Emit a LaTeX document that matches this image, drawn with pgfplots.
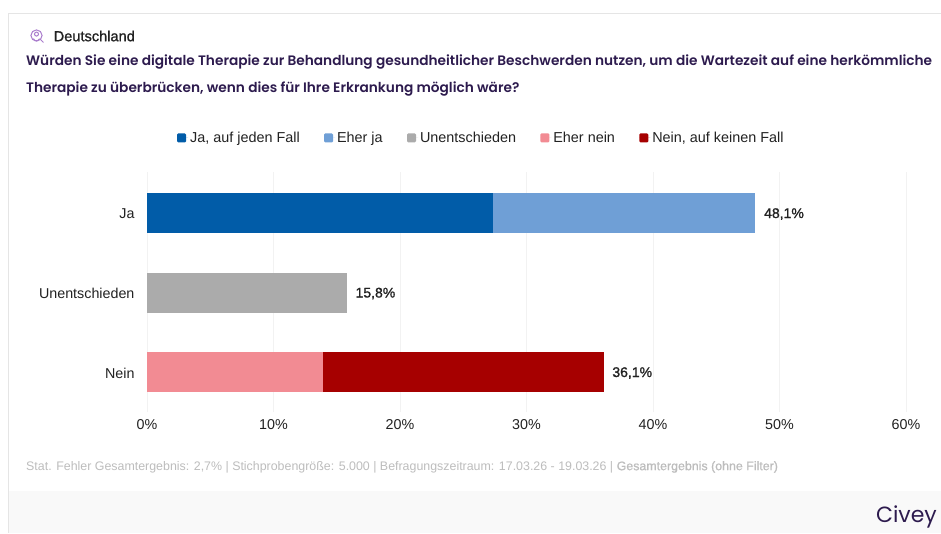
\documentclass[border=0pt]{standalone}
\usepackage{fontspec}
\setmainfont{Liberation Sans}
\newfontfamily\pop{Poppins}[BoldFont={Poppins SemiBold}]
\newfontfamily\poplight{Poppins}
\usepackage{pgfplots}
\pgfplotsset{compat=1.18}
\definecolor{c1}{HTML}{015CA8}
\definecolor{c2}{HTML}{6F9FD6}
\definecolor{c3}{HTML}{ABABAB}
\definecolor{c4}{HTML}{F28B93}
\definecolor{c5}{HTML}{A60000}
\definecolor{ttl}{HTML}{2D1B4E}
\definecolor{foot}{HTML}{BDBDBD}
\definecolor{txt}{HTML}{222222}
\begin{document}
\begin{tikzpicture}[x=1pt,y=1pt]
\useasboundingbox (0,0) rectangle (941,533);
\fill[white] (0,0) rectangle (941,533);
\fill[black!2.5] (9,0) rectangle (941,42);
\draw[black!10,line width=0.8pt] (8.5,0) -- (8.5,519.5) -- (941,519.5);
% header
\begin{scope}[shift={(36.5,497.5)},draw={rgb,255:red,170;green,125;blue,205},line width=1pt]
\draw (0,0) circle (5.6);
\draw (0,1.4) circle (2);
\draw (-3.2,-3.2) arc[start angle=200,end angle=340,radius=3.4];
\draw (4.2,-4.2) -- (7,-7);
\end{scope}
\node[anchor=west,inner sep=0,text=txt] at (53.5,497) {\fontsize{14.6}{16}\selectfont\addfontfeature{FakeBold=1.2}Deutschland};
\node[anchor=west,inner sep=0,text=ttl] at (26,471) {\fontsize{13.7}{16}\selectfont\pop\bfseries Würden Sie eine digitale Therapie zur Behandlung gesundheitlicher Beschwerden nutzen, um die Wartezeit auf eine herkömmliche};
\node[anchor=west,inner sep=0,text=ttl] at (26,444) {\fontsize{13.7}{16}\selectfont\pop\bfseries Therapie zu überbrücken, wenn dies für Ihre Erkrankung möglich wäre?};
\begin{axis}[
  at={(147pt,121pt)},anchor=south west,
  scale only axis,width=759pt,height=240pt,
  xbar stacked,bar width=40pt,
  xmin=0,xmax=60,ymin=-0.503,ymax=2.516,
  axis line style={draw=none},
  xtick={0,10,20,30,40,50,60},
  xticklabels={0\%,10\%,20\%,30\%,40\%,50\%,60\%},
  ytick={0,1,2},
  yticklabels={Nein,Unentschieden,Ja},
  tick style={draw=none},
  xmajorgrids,
  grid style={draw=black!5,line width=0.8pt},
  tick label style={font=\fontsize{14.3}{16}\selectfont,text=txt},
  /pgf/number format/assume math mode=true,
  xticklabel style={yshift=-4pt},
  yticklabel style={xshift=-9pt,yshift=-1pt},
  clip=false,
  legend columns=5,
  legend style={anchor=center,draw=none,fill=none,
    at={(axis description cs:0.4405,1.142)},
    font=\fontsize{14.4}{16}\selectfont,text=txt,
    /tikz/every even column/.append style={column sep=22.3pt},
    inner sep=0pt},
  legend cell align=left,
  legend image code/.code={
    \path (0pt,0pt) -- (11pt,0pt);
    \fill[#1,rounded corners=1.2pt] (0pt,-4.5pt) rectangle (9pt,4.5pt);
  },
]
\addplot+[draw=none,fill=c1] coordinates {(0,0) (0,1) (27.35,2)};
\addlegendentry{Ja, auf jeden Fall}
\addplot+[draw=none,fill=c2] coordinates {(0,0) (0,1) (20.75,2)};
\addlegendentry{Eher ja}
\addplot+[draw=none,fill=c3] coordinates {(0,0) (15.8,1) (0,2)};
\addlegendentry{Unentschieden}
\addplot+[draw=none,fill=c4] coordinates {(13.9,0) (0,1) (0,2)};
\addlegendentry{Eher nein}
\addplot+[draw=none,fill=c5] coordinates {(22.2,0) (0,1) (0,2)};
\addlegendentry{Nein, auf keinen Fall}
\node[anchor=west,inner sep=0,text=txt,yshift=-1pt] at (axis cs:48.1,2) {\hspace{8.5pt}\fontsize{14}{16}\selectfont\addfontfeature{FakeBold=1.2}48,1\%};
\node[anchor=west,inner sep=0,text=txt,yshift=-1pt] at (axis cs:15.8,1) {\hspace{8.5pt}\fontsize{14}{16}\selectfont\addfontfeature{FakeBold=1.2}15,8\%};
\node[anchor=west,inner sep=0,text=txt,yshift=-1pt] at (axis cs:36.1,0) {\hspace{8.5pt}\fontsize{14}{16}\selectfont\addfontfeature{FakeBold=1.2}36,1\%};
\end{axis}
\node[anchor=west,inner sep=0,text=foot] at (26,66) {\fontsize{12.4}{13}\selectfont Stat. Fehler Gesamtergebnis: 2,7\% | Stichprobengröße: 5.000 | Befragungszeitraum: 17.03.26 - 19.03.26 | \addfontfeature{FakeBold=0.8}Gesamtergebnis (ohne Filter)};
\node[anchor=east,inner sep=0,text=ttl] at (937,16) {\fontsize{22}{24}\selectfont\poplight Civey};
\end{tikzpicture}
\end{document}
